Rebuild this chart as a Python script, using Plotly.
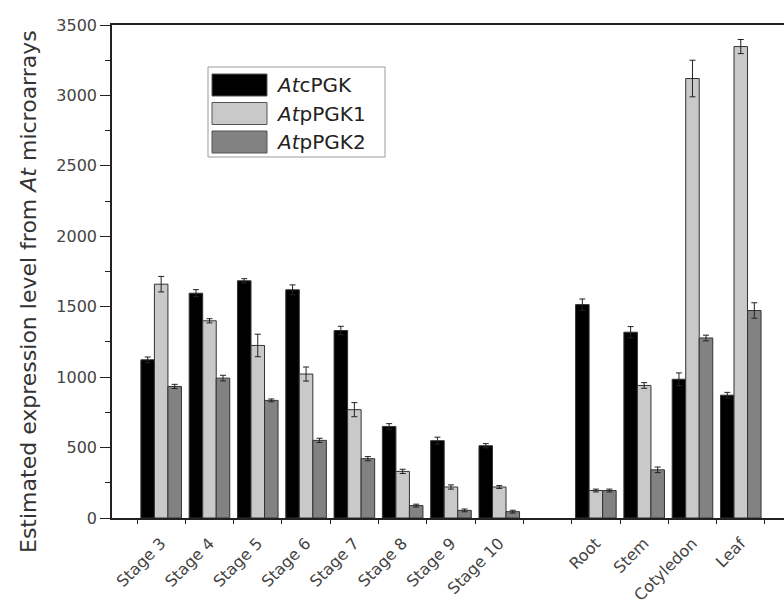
import plotly.graph_objects as go

categories = ["Stage 3", "Stage 4", "Stage 5", "Stage 6", "Stage 7", "Stage 8",
              "Stage 9", "Stage 10", "Root", "Stem", "Cotyledon", "Leaf"]
positions = [0, 1, 2, 3, 4, 5, 6, 7, 9, 10, 11, 12]

cpgk = [1123, 1596, 1684, 1620, 1331, 650, 549, 513, 1515, 1319, 985, 872]
cpgk_err = [20, 25, 15, 35, 30, 20, 25, 15, 40, 40, 45, 20]
ppgk1 = [1660, 1400, 1225, 1022, 769, 331, 220, 220, 195, 941, 3120, 3347]
ppgk1_err = [55, 15, 80, 50, 50, 15, 15, 10, 10, 20, 130, 50]
ppgk2 = [934, 993, 835, 551, 421, 88, 54, 45, 195, 342, 1278, 1473]
ppgk2_err = [15, 20, 10, 15, 15, 10, 10, 10, 10, 20, 20, 55]

series_names = ["<i>At</i>cPGK", "<i>At</i>pPGK1", "<i>At</i>pPGK2"]
series_vals = [cpgk, ppgk1, ppgk2]
series_errs = [cpgk_err, ppgk1_err, ppgk2_err]
series_colors = ["#000000", "#c9c9c9", "#828282"]

W, H = 784, 612
ML, MR, MT, MB = 112, 0, 25, 94
PW, PH = W - ML - MR, H - MT - MB

FONT = "DejaVu Sans, Liberation Sans, Arial, sans-serif"

fig = go.Figure()
for name, vals, errs, color in zip(series_names, series_vals, series_errs, series_colors):
    fig.add_trace(go.Bar(
        x=positions, y=vals, name=name, showlegend=False,
        marker=dict(color=color, line=dict(color="#333333", width=1)),
        error_y=dict(type="data", array=errs, visible=True,
                     color="#222222", thickness=1, width=3),
    ))

boundaries = [p - 0.5 for p in range(0, 14)]


def px_x(px):
    return (px - ML) / PW


def px_y(py):
    return (H - MB - py) / PH


# custom legend (large swatches like the original)
shapes = [dict(type="rect", xref="paper", yref="paper",
               x0=px_x(208), x1=px_x(385), y0=px_y(157), y1=px_y(67),
               line=dict(color="#9a9a9a", width=1), fillcolor="white", layer="above")]
annotations = []
for k, (name, color) in enumerate(zip(series_names, series_colors)):
    cy = 85 + k * 28.5
    shapes.append(dict(type="rect", xref="paper", yref="paper",
                       x0=px_x(212), x1=px_x(267), y0=px_y(cy + 11), y1=px_y(cy - 11),
                       line=dict(color="#555555", width=1), fillcolor=color, layer="above"))
    annotations.append(dict(xref="paper", yref="paper", x=px_x(274), y=px_y(cy),
                            xanchor="left", yanchor="middle", showarrow=False,
                            text=name, font=dict(size=20, color="#222222", family=FONT)))

# y-axis title
annotations.append(dict(xref="paper", yref="paper", x=px_x(28), y=px_y(292),
                        xanchor="center", yanchor="middle", showarrow=False,
                        textangle=-90,
                        text="Estimated expression level from <i>At</i> microarrays",
                        font=dict(size=22, color="#333333", family=FONT)))

fig.update_layout(
    width=W, height=H,
    margin=dict(l=ML, r=MR, t=MT, b=MB),
    paper_bgcolor="white", plot_bgcolor="white",
    barmode="group", bargap=0.16, bargroupgap=0,
    font=dict(family=FONT, color="#333333"),
    showlegend=False,
    shapes=shapes, annotations=annotations,
    xaxis=dict(
        range=[-1.018, 12.895],
        tickmode="array", tickvals=positions, ticktext=categories,
        tickangle=-45, ticks="", tickfont=dict(size=16, color="#444444"),
        ticklabelstandoff=8,
        showline=True, linecolor="#222222", linewidth=1.5, mirror=True,
        showgrid=False, zeroline=False,
        minor=dict(tickmode="array", tickvals=boundaries, ticks="outside",
                   ticklen=4, tickcolor="#222222", showgrid=False),
    ),
    yaxis=dict(
        range=[0, 3500],
        tickmode="linear", tick0=0, dtick=500,
        ticks="outside", ticklen=10, tickcolor="#222222",
        tickfont=dict(size=16, color="#444444"),
        showline=True, linecolor="#222222", linewidth=1.5, mirror=False,
        showgrid=False, zeroline=False,
        minor=dict(dtick=250, ticks="outside", ticklen=5, tickcolor="#222222"),
    ),
)

fig.write_html("out.html")
